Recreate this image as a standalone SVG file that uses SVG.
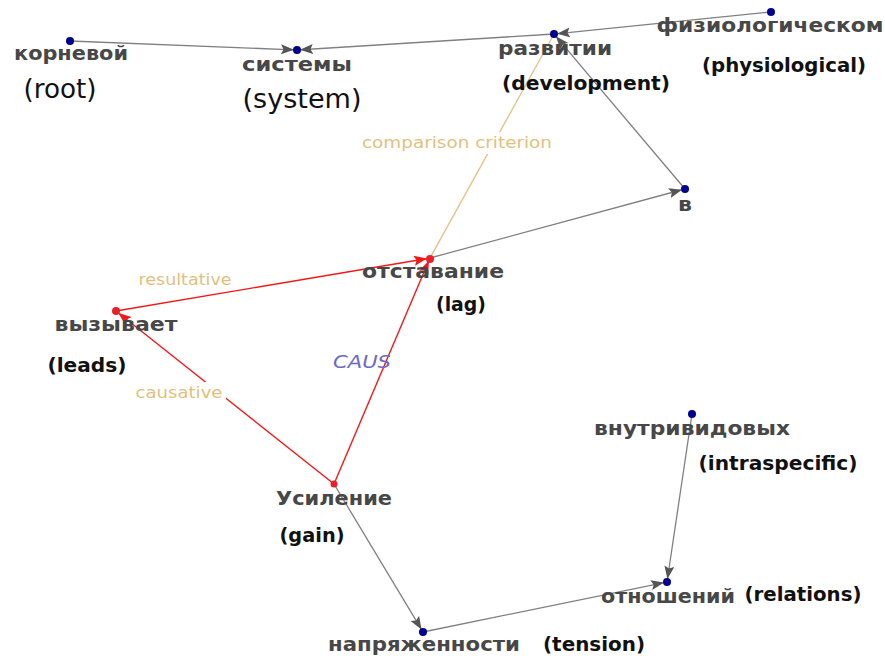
<svg xmlns="http://www.w3.org/2000/svg" width="885" height="656" viewBox="0 0 885 656">
<defs>
<style>
.ru{font-family:"DejaVu Sans",Verdana,sans-serif;font-weight:bold;font-size:19px;fill:#474747;text-anchor:middle}
.en{font-family:"DejaVu Sans",Verdana,sans-serif;font-weight:bold;font-size:19px;fill:#111;text-anchor:middle}
.big{font-family:"DejaVu Sans",Verdana,sans-serif;font-size:26px;fill:#111;text-anchor:middle}
.lbl{font-family:"DejaVu Sans",Verdana,sans-serif;font-size:16px;fill:#e2bf7e;text-anchor:middle}
.caus{font-family:"DejaVu Sans",Verdana,sans-serif;font-size:17px;font-style:italic;fill:#6a6ac4;text-anchor:middle}
.g{stroke:#808080;stroke-width:1.3;fill:none}
.r{stroke:#f01818;stroke-width:1.4;fill:none}
.t{stroke:#e6c28a;stroke-width:1.4;fill:none}
.dot{fill:#000090}
.rdot{fill:#e8202a}
</style>
<marker id="ag" markerWidth="14" markerHeight="12" refX="12" refY="5" orient="auto" markerUnits="userSpaceOnUse"><path d="M0,0 L13,5 L0,10 L2.5,5 z" fill="#555"/></marker>
<marker id="ar" markerWidth="14" markerHeight="12" refX="12" refY="5" orient="auto" markerUnits="userSpaceOnUse"><path d="M0,0 L13,5 L0,10 L2.5,5 z" fill="#f01818"/></marker>
</defs>
<rect width="885" height="656" fill="#fff"/>
<g id="connectors">
<line class="g" x1="70" y1="41" x2="293" y2="49.8" marker-end="url(#ag)"/>
<line class="g" x1="554" y1="34" x2="301" y2="49.75" marker-end="url(#ag)"/>
<line class="g" x1="771" y1="12" x2="558" y2="33.6" marker-end="url(#ag)"/>
<line class="g" x1="685" y1="189" x2="556.6" y2="37.1" marker-end="url(#ag)"/>
<line class="g" x1="430" y1="258" x2="681" y2="190" marker-end="url(#ag)"/>
<line class="t" x1="554" y1="34" x2="430" y2="258"/>
<line class="r" x1="116" y1="311" x2="426" y2="258.7" marker-end="url(#ar)"/>
<line class="r" x1="334" y1="484" x2="428.4" y2="261.7" marker-end="url(#ar)"/>
<line class="r" x1="334" y1="484" x2="119.1" y2="313.5" marker-end="url(#ar)"/>
<line class="g" x1="334" y1="484" x2="421" y2="628.6" marker-end="url(#ag)"/>
<line class="g" x1="423" y1="632" x2="663" y2="582.8" marker-end="url(#ag)"/>
<line class="g" x1="692" y1="414" x2="667.6" y2="578" marker-end="url(#ag)"/>
<rect x="360" y="132" width="194" height="22" fill="#fff"/>
<text class="lbl" x="457" y="148" textLength="190" lengthAdjust="spacingAndGlyphs">comparison criterion</text>
<text class="lbl" x="185" y="285" textLength="93" lengthAdjust="spacingAndGlyphs">resultative</text>
<rect x="133" y="382" width="93" height="22" fill="#fff"/>
<text class="lbl" x="179" y="398" textLength="87" lengthAdjust="spacingAndGlyphs">causative</text>
<text class="caus" x="362" y="368" textLength="58" lengthAdjust="spacingAndGlyphs">CAUS</text>
</g>
<g id="n-kornevoy">
<circle class="dot" cx="70" cy="41" r="4"/>
<text class="ru" x="71" y="60" textLength="114" lengthAdjust="spacingAndGlyphs">корневой</text>
<text class="big" x="60" y="98" textLength="73" lengthAdjust="spacingAndGlyphs">(root)</text>
</g>
<g id="n-sistemy">
<circle class="dot" cx="297" cy="50" r="4"/>
<text class="ru" x="297" y="71" textLength="110" lengthAdjust="spacingAndGlyphs">системы</text>
<text class="big" x="302" y="108" textLength="119" lengthAdjust="spacingAndGlyphs">(system)</text>
</g>
<g id="n-razvitii">
<circle class="dot" cx="554" cy="34" r="4"/>
<text class="ru" x="555" y="55" textLength="114" lengthAdjust="spacingAndGlyphs">развитии</text>
<text class="en" x="586" y="90" textLength="168" lengthAdjust="spacingAndGlyphs">(development)</text>
</g>
<g id="n-fiziolog">
<circle class="dot" cx="771" cy="12" r="4"/>
<text class="ru" x="770" y="32" textLength="227" lengthAdjust="spacingAndGlyphs">физиологическом</text>
<text class="en" x="784" y="72" textLength="164" lengthAdjust="spacingAndGlyphs">(physiological)</text>
</g>
<g id="n-v">
<circle class="dot" cx="685" cy="189" r="4"/>
<text class="ru" x="685" y="211" textLength="14" lengthAdjust="spacingAndGlyphs">в</text>
</g>
<g id="n-otstavanie">
<circle class="rdot" cx="430" cy="259" r="4"/>
<text class="ru" x="433" y="278" textLength="142" lengthAdjust="spacingAndGlyphs">отставание</text>
<text class="en" x="461" y="311" textLength="50" lengthAdjust="spacingAndGlyphs">(lag)</text>
</g>
<g id="n-vyzyvaet">
<circle class="rdot" cx="116" cy="311" r="4"/>
<text class="ru" x="116" y="331" textLength="123" lengthAdjust="spacingAndGlyphs">вызывает</text>
<text class="en" x="87" y="372" textLength="79" lengthAdjust="spacingAndGlyphs">(leads)</text>
</g>
<g id="n-usilenie">
<circle class="rdot" cx="334" cy="484" r="3.5"/>
<text class="ru" x="334" y="505" textLength="116" lengthAdjust="spacingAndGlyphs">Усиление</text>
<text class="en" x="312" y="542" textLength="65" lengthAdjust="spacingAndGlyphs">(gain)</text>
</g>
<g id="n-napryazhennosti">
<circle class="dot" cx="423" cy="632" r="4"/>
<text class="ru" x="424" y="651" textLength="192" lengthAdjust="spacingAndGlyphs">напряженности</text>
<text class="en" x="594" y="651" textLength="102" lengthAdjust="spacingAndGlyphs">(tension)</text>
</g>
<g id="n-vnutrividovykh">
<circle class="dot" cx="692" cy="414" r="4"/>
<text class="ru" x="692" y="435" textLength="196" lengthAdjust="spacingAndGlyphs">внутривидовых</text>
<text class="en" x="778" y="470" textLength="159" lengthAdjust="spacingAndGlyphs">(intraspecific)</text>
</g>
<g id="n-otnosheniy">
<circle class="dot" cx="667" cy="582" r="4"/>
<text class="ru" x="668" y="603" textLength="134" lengthAdjust="spacingAndGlyphs">отношений</text>
<text class="en" x="803" y="601" textLength="117" lengthAdjust="spacingAndGlyphs">(relations)</text>
</g>
</svg>
